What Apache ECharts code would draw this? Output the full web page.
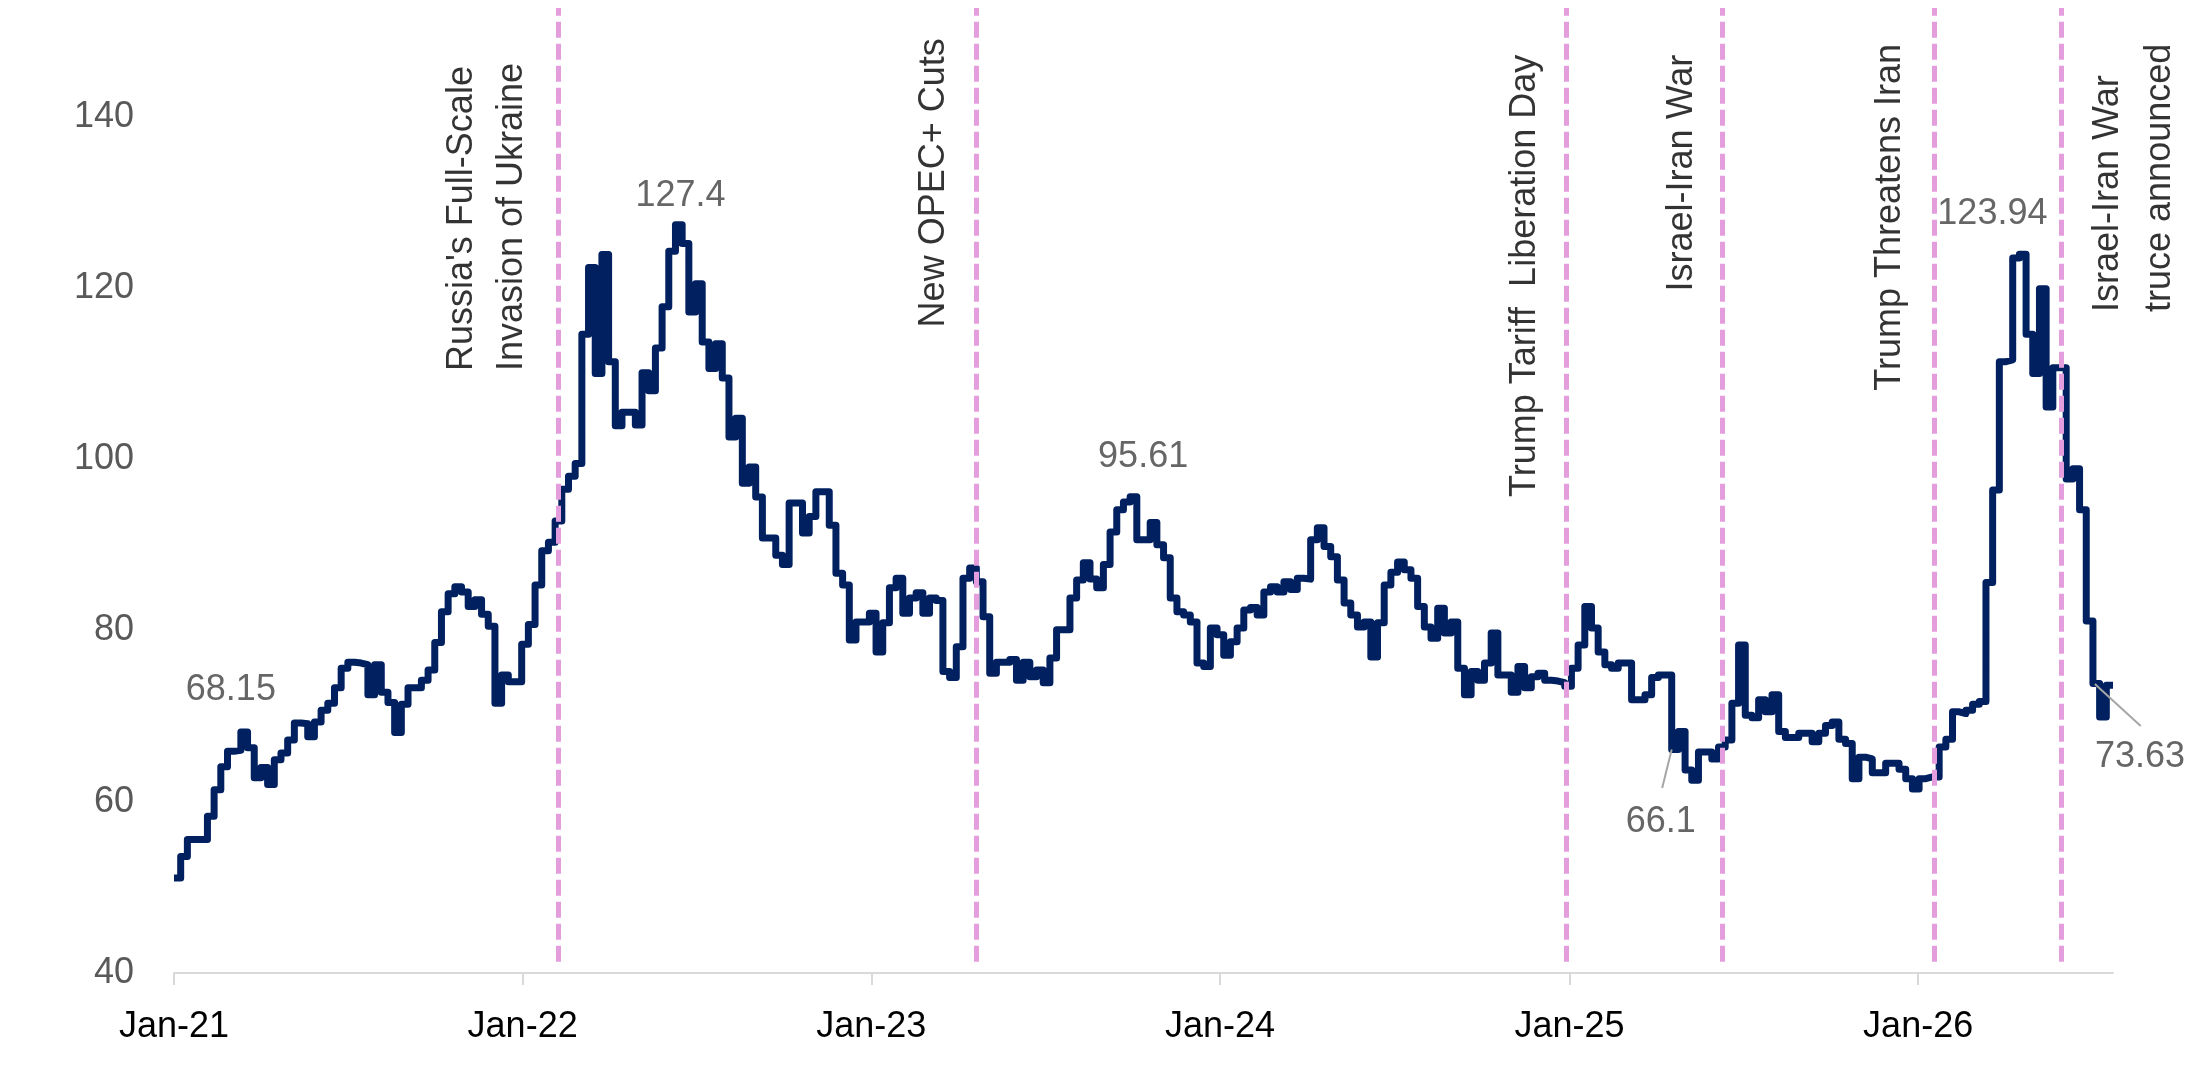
<!DOCTYPE html>
<html>
<head>
<meta charset="utf-8">
<script src="https://cdn.jsdelivr.net/npm/echarts@6/dist/echarts.min.js"></script>
<style>
html,body{margin:0;padding:0;background:#ffffff;}
#chart{width:2200px;height:1089px;}
</style>
</head>
<body>
<div id="chart"></div>
<script>
// ---------------- DATA ----------------
const weekStart = '2021-01-01';   // first weekly observation
const weeklyPrice = [
  51.1,53.6,55.6,55.6,55.6,58.3,61.4,64.1,65.9,66.0,
  68.15,66.3,62.8,64.0,62.0,64.9,65.7,67.2,69.2,69.1,
  67.6,69.3,70.7,71.5,73.3,75.6,76.3,76.2,76.0,72.5,
  76.0,72.8,71.6,68.1,71.4,73.3,73.3,74.2,75.4,78.6,
  82.2,84.3,85.1,84.5,82.8,83.6,81.9,80.5,71.5,74.8,
  74.0,74.0,78.4,80.7,85.3,89.3,90.3,92.8,96.5,98.0,
  99.5,114.6,122.4,110.0,123.9,111.4,103.9,105.5,105.5,104.0,
  110.1,108.0,113.0,117.8,124.3,127.4,125.2,117.2,120.5,113.7,
  110.6,113.5,109.5,102.6,104.8,97.2,99.1,95.6,90.8,90.8,
  88.8,87.7,94.9,94.9,91.4,93.3,96.2,96.2,92.3,86.7,
  85.3,78.9,81.0,81.0,82.0,77.5,80.9,85.0,86.1,82.0,
  83.8,84.4,82.0,83.8,83.5,75.2,74.5,78.1,86.1,87.3,
  85.7,81.6,75.0,76.3,76.3,76.6,74.2,76.3,74.6,75.4,
  73.9,76.8,80.1,80.1,83.8,85.9,87.9,86.0,85.0,87.7,
  91.5,94.1,95.0,95.61,90.6,90.6,92.6,90.0,88.5,83.8,
  82.2,81.8,81.0,76.2,75.8,80.3,79.5,77.1,78.7,80.3,
  82.4,82.7,81.8,84.5,85.1,84.5,85.7,84.8,86.1,86.0,
  90.6,92.0,89.8,88.6,85.9,83.2,81.8,80.4,81.0,76.9,
  80.9,85.3,86.8,88.0,87.1,86.1,82.8,80.4,79.1,82.6,
  79.7,81.0,75.6,72.5,75.2,74.2,76.2,79.7,74.8,74.8,
  72.8,75.8,73.3,74.6,75.0,74.2,74.1,73.9,73.5,75.6,
  78.3,82.8,80.3,77.5,76.0,75.6,76.2,76.2,71.9,71.9,
  72.5,74.5,74.8,74.8,66.1,68.2,63.7,62.5,65.8,65.8,
  65.0,66.4,67.2,71.5,78.3,70.1,69.8,71.9,70.5,72.5,
  68.2,67.5,67.5,68.0,68.0,67.0,68.0,68.9,69.3,67.3,
  66.8,62.7,65.2,65.0,63.4,63.4,64.5,64.5,63.8,62.7,
  61.5,62.7,62.9,62.9,66.4,67.3,70.5,70.3,70.7,71.4,
  71.7,85.6,96.4,111.4,111.6,123.5,123.94,114.6,110.0,119.9,
  106.1,110.7,110.7,97.7,98.9,94.1,81.1,73.8,69.9,73.6,
  73.63
];
const yTickValues = [40, 60, 80, 100, 120, 140];
const xTickLabels = ['Jan-21', 'Jan-22', 'Jan-23', 'Jan-24', 'Jan-25', 'Jan-26'];

const eventNames = [
  "Russia's Full-Scale\nInvasion of Ukraine",
  'New OPEC+ Cuts',
  'Trump Tariff  Liberation Day',
  'Israel-Iran War',
  'Trump Threatens Iran',
  'Israel-Iran War\ntruce announced'
];
const eventLineDates = ['2022-02-07', '2023-04-21', '2024-12-29', '2025-06-10', '2026-01-18', '2026-05-31'];
const eventTextDates = ['2021-11-25', '2023-03-08', '2024-11-16', '2025-04-29', '2025-12-03', '2026-08-15'];
const eventTextLevels = [110.3, 115.4, 95.6, 119.6, 108.0, 117.2];

const calloutWeeks = [10, 75, 143, 224, 276, 290];
const leaderFrom = [['2025-04-18', 66.1], ['2026-07-05', 73.76]];
const leaderTo   = [['2025-04-08', 61.6], ['2026-08-22', 68.85]];

// ---------------- LAYOUT / STYLE ----------------
const FONT = "'Liberation Sans', Arial, sans-serif";
const DAY = 86400000;
const t0 = Date.parse(weekStart);
const seriesData = weeklyPrice.map((v, i) => [t0 + i * 7 * DAY, v]);
const tEnd = seriesData[seriesData.length - 1][0];
const calloutOffsets = [[-10, -42], [5, -29], [13, -40], [-11, 73], [-27, -40], [27, 72]];
const eventLineHeights = [50, 50, 50, 50, 50, 52];
const Y_MIN = 40, Y_MAX = 152.7;
const CLEAR = 'rgba(0,0,0,0)';

// Event annotations use a narrow face when one is installed (sized to the reference text length)
function textWidth(font, s) {
  const ctx = document.createElement('canvas').getContext('2d');
  ctx.font = font;
  return ctx.measureText(s).width;
}
const SAMPLE = eventNames[2];
const TARGET_LEN = 449;
let EVT_FONT = FONT, EVT_SIZE = 36;
(function () {
  const reg = textWidth("100px 'Liberation Sans'", SAMPLE);
  const cands = ["'Liberation Sans Narrow'", "'DejaVu Sans Condensed'"];
  for (const f of cands) {
    const w = textWidth('100px ' + f + ', monospace', SAMPLE);
    const wMono = textWidth('100px monospace', SAMPLE);
    if (Math.abs(w - wMono) > 1 && w < reg * 0.9) {
      EVT_FONT = f + ", 'Liberation Sans', sans-serif";
      EVT_SIZE = Math.round(TARGET_LEN / w * 100 * 10) / 10;
      break;
    }
  }
})();

const chart = echarts.init(document.getElementById('chart'), null, {renderer: 'canvas', width: 2200, height: 1089});

const option = {
  useUTC: true,
  animation: false,
  backgroundColor: '#ffffff',
  grid: {left: 174, right: 87, top: 8, bottom: 116, containLabel: false},
  xAxis: {
    type: 'time',
    min: t0,
    max: tEnd,
    minInterval: 365 * DAY,
    maxInterval: 366 * DAY,
    splitNumber: 6,
    axisLine: {show: true, lineStyle: {color: '#d9d9d9', width: 2}},
    axisTick: {show: true, length: 12, lineStyle: {color: '#d9d9d9', width: 2}},
    splitLine: {show: false},
    minorTick: {show: false},
    axisLabel: {
      color: '#000000', fontSize: 36, fontFamily: FONT, margin: 36,
      hideOverlap: false,
      formatter: function (v) {
        const d = new Date(v);
        const idx = d.getUTCFullYear() - 2021;
        return (d.getUTCMonth() === 0 && d.getUTCDate() === 1 && xTickLabels[idx]) ? xTickLabels[idx] : '';
      }
    }
  },
  yAxis: {
    type: 'value', min: Y_MIN, max: Y_MAX, interval: 20,
    axisLine: {show: false}, axisTick: {show: false}, splitLine: {show: false},
    axisLabel: {
      color: '#595959', fontSize: 36, fontFamily: FONT, margin: 40,
      formatter: function (v) { return yTickValues.indexOf(v) >= 0 ? String(v) : ''; }
    }
  },
  series: [
    {
      name: 'price', type: 'line', data: seriesData, step: 'end',
      showSymbol: false, symbol: 'none', silent: true, z: 2,
      emphasis: {disabled: true},
      lineStyle: {color: '#002060', width: 7, join: 'round', cap: 'butt'},
      itemStyle: {color: '#002060'}
    },
    {
      name: 'events', type: 'line', data: [], silent: true, z: 5,
      markLine: {
        silent: true, symbol: ['none', 'none'], animation: false,
        label: {show: false},
        lineStyle: {color: '#e59edd', width: 5, type: [16, 6]},
        data: eventLineDates.map(d => [{coord: [Date.parse(d), 41.3]}, {coord: [Date.parse(d), Y_MAX]}])
      }
    },
    {
      name: 'leaders', type: 'custom', silent: true, clip: false, z: 6,
      dimensions: ['t1', 'v1', 't2', 'v2'],
      encode: {x: [0, 2], y: [1, 3]},
      data: leaderFrom.map((p, k) => [Date.parse(p[0]), p[1], Date.parse(leaderTo[k][0]), leaderTo[k][1]]),
      renderItem: function (params, api) {
        const a = api.coord([api.value(0), api.value(1)]);
        const b = api.coord([api.value(2), api.value(3)]);
        return {
          type: 'line',
          shape: {x1: a[0], y1: a[1], x2: b[0], y2: b[1]},
          style: {stroke: '#a6a6a6', lineWidth: 2}
        };
      }
    },
    {
      name: 'callouts', type: 'scatter', silent: true, clip: false, z: 8,
      symbolSize: 1, itemStyle: {color: CLEAR},
      data: calloutWeeks.map((w, k) => ({
        value: seriesData[w],
        label: {offset: calloutOffsets[k]}
      })),
      label: {
        show: true, position: 'inside', align: 'center', verticalAlign: 'middle',
        color: '#404040', fontSize: 36, fontFamily: FONT,
        formatter: function (p) { return String(p.value[1]); }
      }
    },
    {
      name: 'eventText', type: 'scatter', silent: true, clip: false, z: 7,
      symbolSize: 1, itemStyle: {color: CLEAR},
      data: eventTextDates.map((d, k) => ({
        value: [Date.parse(d), eventTextLevels[k]], name: eventNames[k],
        label: {lineHeight: eventLineHeights[k]}
      })),
      label: {
        show: true, position: 'inside', rotate: 90, align: 'left', verticalAlign: 'middle',
        color: '#000000', fontSize: EVT_SIZE, fontFamily: EVT_FONT,
        formatter: function (p) { return p.name; }
      }
    }
  ]
};
chart.setOption(option);
</script>
</body>
</html>
